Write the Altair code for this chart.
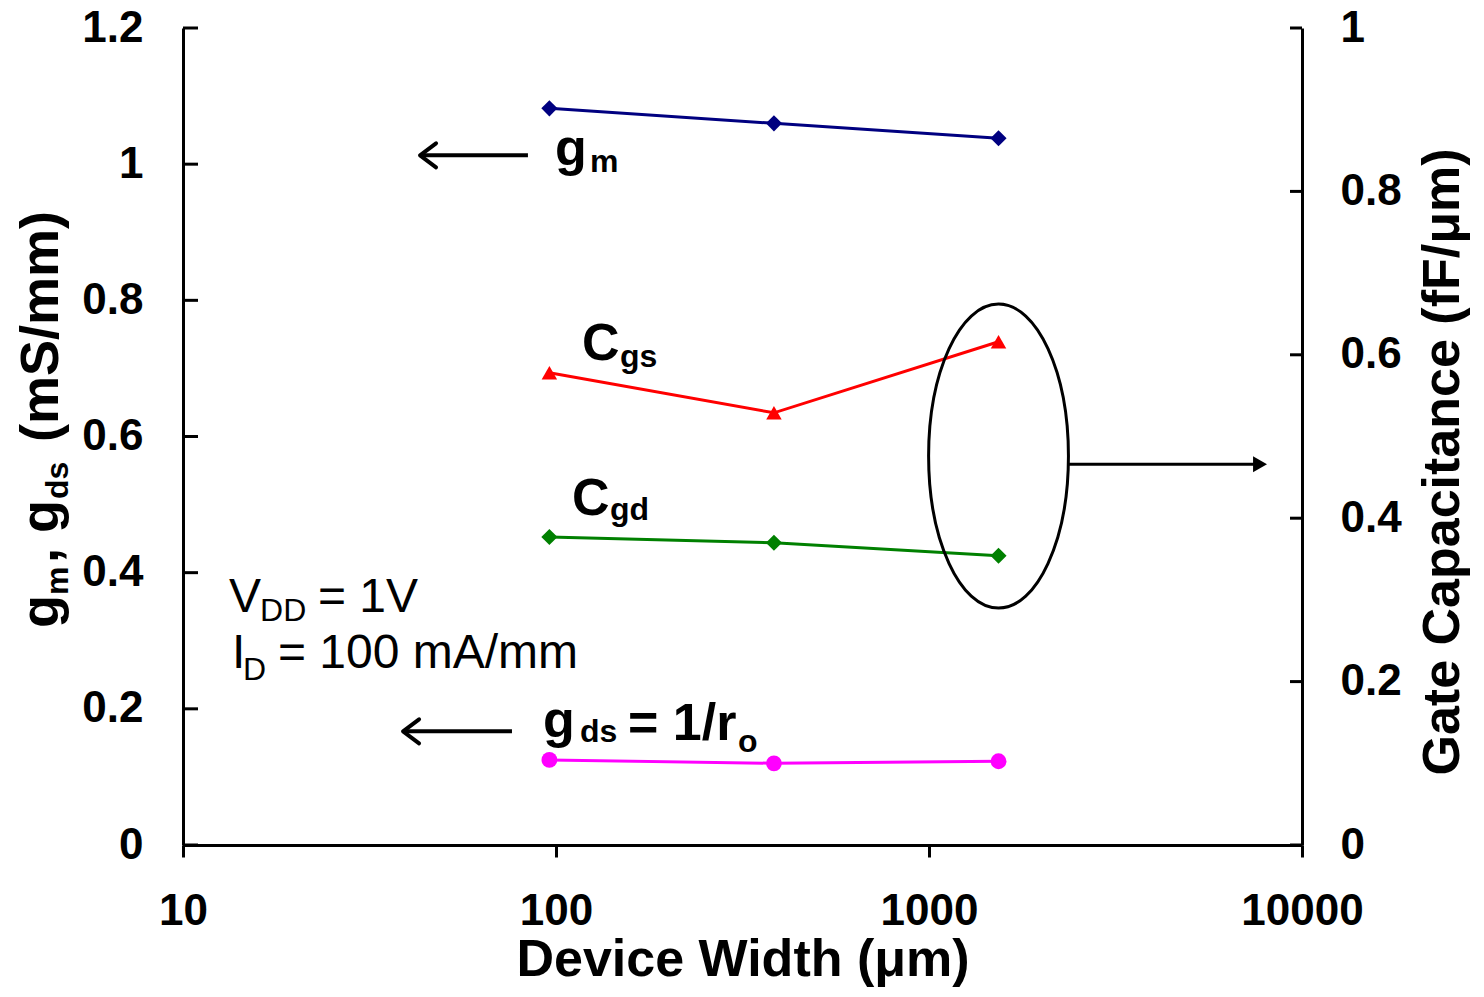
import altair as alt
import pandas as pd

# ---------------- data ----------------
widths = [96, 384, 1536]                 # device width (um)
gm_vals = [1.082, 1.060, 1.038]          # mS/mm (left axis)
gds_vals = [0.125, 0.120, 0.123]         # mS/mm (left axis)
cgs_vals = [0.578, 0.529, 0.616]         # fF/um (right axis)
cgd_vals = [0.377, 0.370, 0.354]         # fF/um (right axis)

x_ticks = [10, 100, 1000, 10000]
left_ticks = [0, 0.2, 0.4, 0.6, 0.8, 1, 1.2]
right_ticks = [0, 0.2, 0.4, 0.6, 0.8, 1]

# annotation anchors (x in um, y in left-axis units)
bold_text = ["g", "m", "C", "gs", "C", "gd", "g", "ds", "= 1/r", "o"]
bold_x = [99.4, 123.3, 117.4, 148.5, 110.4, 139.6, 92.3, 116.0, 156.0, 307.6]
bold_y = [0.999, 0.989, 0.712, 0.702, 0.485, 0.477, 0.159, 0.151, 0.154, 0.137]
reg_text = ["V", "DD", "= 1V", "I", "D", "= 100 mA/mm"]
reg_x = [13.28, 16.09, 23.01, 13.53, 14.48, 17.97]
reg_y = [0.342, 0.329, 0.342, 0.260, 0.242, 0.260]

# arrows (left axis units)
arrow_tip_x = [43.2, 38.9]
arrow_tail_x = [84.1, 76.2]
arrow_y = [1.013, 0.167]
# ellipse + arrow to right axis (right axis units)
ellipse_x = [1536]
ellipse_y = [0.476]
rarrow_x = [2360, 7500]
rarrow_head_x = [7717]
rarrow_y = [0.466]

# ---------------- styling ----------------
W, H = 1119, 817
FONT = "Liberation Sans"
BOLD_SIZES = [52, 32, 52, 32, 52, 32, 52, 32, 52, 32]
REG_SIZES = [48, 32, 48, 48, 32, 48]

xs = alt.Scale(type="log", domain=[10, 10000], nice=False)
x_axis = alt.Axis(values=x_ticks, format="~g", labelFontSize=44, labelFont=FONT,
                  labelFontWeight="bold", labelColor="black", tickSize=12, tickWidth=3,
                  tickColor="black", domainColor="black", domainWidth=3, labelPadding=32,
                  grid=False, title=None, labelFlush=False)
ysL = alt.Scale(domain=[0, 1.2], nice=False, zero=False)
ysR = alt.Scale(domain=[0, 1.0], nice=False, zero=False)
yL_axis = alt.Axis(values=left_ticks, format="~g", labelFontSize=44, labelFont=FONT,
                   labelFontWeight="bold", labelColor="black", ticks=False, tickSize=0,
                   domainColor="black", domainWidth=3, labelPadding=40, grid=False,
                   title=None, orient="left")
yR_axis = alt.Axis(values=right_ticks, format="~g", labelFontSize=44, labelFont=FONT,
                   labelFontWeight="bold", labelColor="black", ticks=False, tickSize=0,
                   domainColor="black", domainWidth=3, labelPadding=38, grid=False,
                   title=None, orient="right")


def X(f):
    return alt.X(f, type="quantitative", scale=xs, axis=x_axis)


def YL(f):
    return alt.Y(f, type="quantitative", scale=ysL, axis=yL_axis)


def YR(f):
    return alt.Y(f, type="quantitative", scale=ysR, axis=yR_axis)


def series(yv, color, shape, size, Y):
    df = pd.DataFrame({"w": widths, "v": yv})
    base = alt.Chart(df)
    line = base.mark_line(color=color, strokeWidth=3).encode(x=X("w"), y=Y("v"))
    pts = base.mark_point(shape=shape, size=size, filled=True, color=color,
                          opacity=1).encode(x=X("w"), y=Y("v"))
    return [line, pts]


def piece(text, px, py, size, angle=0, align="left", weight="bold"):
    df = pd.DataFrame({"t": [text]})
    return alt.Chart(df).mark_text(align=align, baseline="alphabetic", font=FONT,
                                   fontWeight=weight, fontSize=size, angle=angle,
                                   color="black").encode(
        x=alt.value(px), y=alt.value(py), text="t:N")


# ---------------- left group ----------------
left_layers = []
left_layers += series(gm_vals, "#000080", "diamond", 260, YL)
left_layers += series(gds_vals, "#FF00FF", "circle", 250, YL)

tick_l = alt.Chart(pd.DataFrame({"t": left_ticks})).mark_rule(
    color="black", strokeWidth=3).encode(y=YL("t"), x=alt.value(0), x2=alt.value(15))
left_layers.append(tick_l)

bold_df = pd.DataFrame({"x": bold_x, "y": bold_y, "t": bold_text, "s": BOLD_SIZES})
left_layers.append(alt.Chart(bold_df).mark_text(
    align="left", baseline="alphabetic", font=FONT, fontWeight="bold", color="black").encode(
    x=X("x"), y=YL("y"), text="t:N", size=alt.Size("s:Q", scale=None)))
reg_df = pd.DataFrame({"x": reg_x, "y": reg_y, "t": reg_text, "s": REG_SIZES})
left_layers.append(alt.Chart(reg_df).mark_text(
    align="left", baseline="alphabetic", font=FONT, fontWeight="normal", color="black").encode(
    x=X("x"), y=YL("y"), text="t:N", size=alt.Size("s:Q", scale=None)))

arr_df = pd.DataFrame({"a": arrow_tip_x, "b": arrow_tail_x, "y": arrow_y})
left_layers.append(alt.Chart(arr_df).mark_rule(color="black", strokeWidth=4).encode(
    x=X("a"), x2="b", y=YL("y")))
left_layers.append(alt.Chart(arr_df).mark_point(
    shape="M 1 -0.75 L 0 0 L 1 0.75", size=1024, filled=False, stroke="black",
    strokeWidth=4, opacity=1, strokeCap="round", strokeJoin="round").encode(x=X("a"), y=YL("y")))

# left axis title with subscripts (rotated)
left_layers += [
    piece("g", -125, 600, 54, 270),
    piece("m", -115, 567, 32, 270),
    piece(",", -125, 535, 54, 270),
    piece("g", -125, 505, 54, 270),
    piece("ds", -115, 471, 32, 270),
    piece("(mS/mm)", -125, 414, 54, 270),
]
# x axis title
left_layers.append(piece("Device Width (μm)", 560, 948, 52, 0, "center"))

left = alt.layer(*left_layers)

# ---------------- right group ----------------
right_layers = []
right_layers += series(cgs_vals, "#FF0000", "triangle-up", 240, YR)
right_layers += series(cgd_vals, "#008000", "diamond", 260, YR)

tick_r = alt.Chart(pd.DataFrame({"t": right_ticks})).mark_rule(
    color="black", strokeWidth=3).encode(y=YR("t"), x=alt.value(W - 12), x2=alt.value(W))
right_layers.append(tick_r)

ell_df = pd.DataFrame({"x": ellipse_x, "y": ellipse_y})
right_layers.append(alt.Chart(ell_df).mark_point(
    shape="M -0.46 0 A 0.46 1 0 1 0 0.46 0 A 0.46 1 0 1 0 -0.46 0 Z",
    size=92416, filled=False, stroke="black", strokeWidth=3, opacity=1).encode(
    x=X("x"), y=YR("y")))
ra_df = pd.DataFrame({"a": [rarrow_x[0]], "b": [rarrow_x[1]], "y": rarrow_y})
right_layers.append(alt.Chart(ra_df).mark_rule(color="black", strokeWidth=3).encode(
    x=X("a"), x2="b", y=YR("y")))
rh_df = pd.DataFrame({"x": rarrow_head_x, "y": rarrow_y})
right_layers.append(alt.Chart(rh_df).mark_point(
    shape="triangle-right", size=260, filled=True, color="black", opacity=1).encode(
    x=X("x"), y=YR("y")))

right_layers.append(piece("Gate Capacitance (fF/μm)", 1276, 434, 52, 270, "center"))

right = alt.layer(*right_layers)

chart = alt.layer(left, right).resolve_scale(y="independent").properties(
    width=W, height=H,
    padding={"left": 175, "top": 20, "right": 170, "bottom": 144},
    autosize=alt.AutoSizeParams(type="none"),
    background="white",
).configure_view(stroke=None)

chart.save("out.html", embed_options={"renderer": "svg", "actions": False})
